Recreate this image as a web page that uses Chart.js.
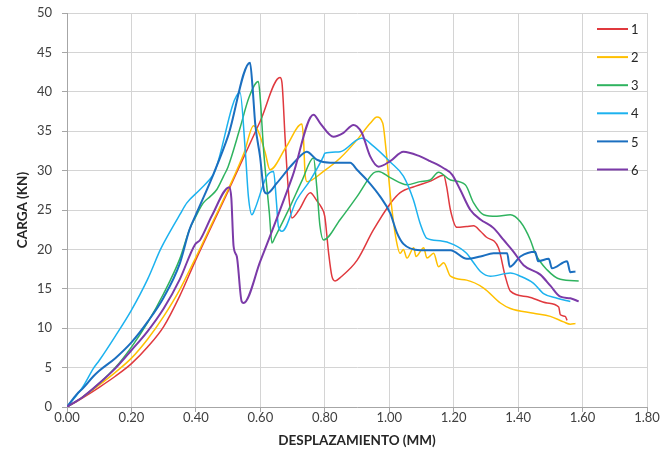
<!DOCTYPE html>
<html>
<head>
<meta charset="utf-8">
<script src="https://cdn.jsdelivr.net/npm/chart.js@4.4.0/dist/chart.umd.min.js"></script>
<style>
  html, body { margin: 0; padding: 0; background: #fff; }
  #wrap { width: 662px; height: 462px; }
</style>
</head>
<body>
<div id="wrap"><canvas id="chart" width="662" height="462"></canvas></div>
<script>
// Ejes
const xTickValues = [0, 0.2, 0.4, 0.6, 0.8, 1.0, 1.2, 1.4, 1.6, 1.8];
const xTickLabels = ['0.00', '0.20', '0.40', '0.60', '0.80', '1.00', '1.20', '1.40', '1.60', '1.80'];
const yTickValues = [0, 5, 10, 15, 20, 25, 30, 35, 40, 45, 50];
const yTickLabels = ['0', '5', '10', '15', '20', '25', '30', '35', '40', '45', '50'];

const seriesNames = ['1', '2', '3', '4', '5', '6'];
const seriesColors = ['#e0393e', '#ffc000', '#2fb35f', '#1cb2ef', '#1b6fc0', '#7b3aa8'];

// Serie 1
const disp1 = [0, 0.05, 0.1, 0.15, 0.2, 0.25, 0.3, 0.35, 0.4, 0.5, 0.6, 0.661, 0.667, 0.677, 0.688, 0.698, 0.72, 0.755, 0.775, 0.79, 0.8, 0.812, 0.822, 0.832, 0.85, 0.9, 0.95, 1.003, 1.034, 1.08, 1.13, 1.169, 1.178, 1.19, 1.21, 1.24, 1.262, 1.283, 1.3, 1.339, 1.36, 1.376, 1.43, 1.49, 1.526, 1.531, 1.546, 1.552];
const load1 = [0, 1.2, 2.5, 3.9, 5.5, 7.6, 10.2, 14.1, 18.7, 27.4, 36.3, 41.8, 41.2, 34, 27, 24.0, 25.0, 27.2, 26.2, 25.3, 24.2, 19.5, 16.6, 16.0, 16.5, 18.6, 22.4, 25.8, 27.2, 28.0, 28.7, 29.4, 28.0, 25.0, 22.8, 22.9, 23.0, 22.3, 21.6, 20.2, 16.6, 14.7, 14.0, 13.2, 12.7, 11.7, 11.5, 11.0];

// Serie 2
const disp2 = [0, 0.05, 0.1, 0.15, 0.2, 0.25, 0.3, 0.35, 0.4, 0.45, 0.5, 0.55, 0.579, 0.59, 0.6, 0.615, 0.63, 0.68, 0.729, 0.734, 0.739, 0.745, 0.796, 0.848, 0.9, 0.941, 0.962, 0.98, 0.99, 1.005, 1.02, 1.034, 1.044, 1.055, 1.076, 1.083, 1.107, 1.117, 1.138, 1.153, 1.169, 1.19, 1.24, 1.293, 1.345, 1.376, 1.448, 1.5, 1.541, 1.562, 1.578];
const load2 = [0, 1.3, 2.8, 4.4, 6.2, 8.6, 11.5, 14.9, 19.0, 23.3, 27.6, 32.3, 35.7, 35.3, 34.3, 32.3, 30.1, 33.0, 35.9, 34.0, 29.5, 28.6, 29.9, 31.6, 33.9, 36.0, 36.8, 36.0, 32.7, 26.3, 21.6, 19.5, 20.0, 18.9, 20.2, 19.1, 20.2, 18.9, 19.5, 17.8, 18.3, 16.6, 16.1, 15.1, 13.2, 12.5, 11.9, 11.5, 10.8, 10.5, 10.6];

// Serie 3
const disp3 = [0, 0.05, 0.1, 0.15, 0.2, 0.25, 0.3, 0.35, 0.38, 0.4, 0.423, 0.444, 0.465, 0.486, 0.5, 0.537, 0.565, 0.594, 0.6, 0.61, 0.62, 0.628, 0.636, 0.645, 0.693, 0.73, 0.765, 0.775, 0.785, 0.796, 0.848, 0.9, 0.951, 0.967, 1.003, 1.055, 1.096, 1.127, 1.153, 1.19, 1.236, 1.262, 1.293, 1.334, 1.376, 1.407, 1.438, 1.453, 1.49, 1.531, 1.588];
const load3 = [0, 1.3, 3.0, 5.0, 7.6, 10.7, 14.4, 18.8, 22.5, 24.2, 25.9, 26.7, 27.6, 29.3, 30.5, 35.4, 39.3, 41.3, 39.0, 32.7, 28.0, 24.6, 20.8, 21.5, 25.5, 28.8, 31.6, 28.0, 23.0, 21.2, 23.8, 26.7, 29.7, 29.9, 29.1, 28.2, 28.6, 28.8, 29.8, 28.8, 28.2, 25.9, 24.4, 24.2, 24.4, 23.5, 21.2, 19.5, 17.4, 16.2, 16.0];

// Serie 4
const disp4 = [0, 0.03, 0.05, 0.082, 0.1, 0.15, 0.2, 0.25, 0.289, 0.3, 0.35, 0.372, 0.413, 0.454, 0.46, 0.537, 0.553, 0.563, 0.574, 0.582, 0.62, 0.641, 0.65, 0.656, 0.667, 0.713, 0.755, 0.796, 0.8, 0.848, 0.9, 0.915, 0.951, 1.003, 1.044, 1.075, 1.096, 1.117, 1.158, 1.2, 1.24, 1.262, 1.283, 1.314, 1.376, 1.407, 1.448, 1.479, 1.521, 1.562];
const load4 = [0, 1.5, 2.6, 4.9, 5.9, 9.0, 12.3, 16.2, 19.9, 20.8, 24.4, 25.9, 27.6, 29.5, 30.0, 39.9, 32.7, 26.7, 24.4, 25.0, 29.3, 29.9, 26.0, 22.9, 22.3, 26.3, 28.8, 31.8, 32.2, 32.4, 33.9, 34.1, 33.1, 31.1, 29.3, 26.3, 23.3, 21.4, 21.1, 20.6, 19.5, 18.3, 17.2, 16.6, 17.0, 16.6, 15.7, 14.4, 13.8, 13.4];

// Serie 5
const disp5 = [0, 0.03, 0.05, 0.082, 0.1, 0.15, 0.2, 0.25, 0.3, 0.35, 0.38, 0.4, 0.454, 0.5, 0.568, 0.576, 0.584, 0.599, 0.612, 0.62, 0.651, 0.693, 0.734, 0.744, 0.775, 0.817, 0.879, 0.9, 0.931, 0.972, 1.003, 1.024, 1.044, 1.096, 1.13, 1.19, 1.241, 1.283, 1.324, 1.366, 1.374, 1.407, 1.453, 1.462, 1.495, 1.505, 1.552, 1.562, 1.578];
const load5 = [0, 1.6, 2.4, 3.9, 4.6, 6.2, 8.2, 10.8, 13.9, 18.2, 22.5, 24.4, 29.5, 34.4, 43.7, 40.5, 36.0, 31.8, 27.4, 27.1, 28.4, 30.5, 32.2, 32.4, 31.4, 31.0, 31.0, 30.1, 28.8, 26.7, 24.6, 22.1, 20.7, 19.9, 19.9, 19.9, 18.8, 19.1, 19.5, 19.5, 17.8, 19.1, 19.7, 18.5, 18.8, 17.6, 18.5, 17.1, 17.2];

// Serie 6
const disp6 = [0, 0.05, 0.1, 0.15, 0.2, 0.25, 0.3, 0.35, 0.397, 0.413, 0.45, 0.504, 0.51, 0.517, 0.527, 0.542, 0.548, 0.6, 0.7, 0.765, 0.786, 0.827, 0.858, 0.889, 0.9, 0.915, 0.941, 0.967, 1.003, 1.044, 1.096, 1.127, 1.169, 1.195, 1.22, 1.252, 1.283, 1.324, 1.355, 1.386, 1.417, 1.469, 1.5, 1.531, 1.562, 1.588];
const load6 = [0, 1.3, 3.0, 4.9, 7.2, 9.6, 12.5, 16.2, 20.6, 21.2, 24.3, 27.9, 26.5, 20.4, 19.1, 13.4, 13.2, 18.5, 29.3, 37.1, 36.0, 34.3, 34.8, 35.8, 35.6, 34.8, 31.8, 30.5, 31.2, 32.4, 31.8, 31.2, 30.3, 29.5, 27.6, 25.0, 23.8, 22.7, 21.2, 19.7, 18.0, 16.8, 15.4, 14.0, 13.8, 13.4];

const allDisp = [disp1, disp2, disp3, disp4, disp5, disp6];
const allLoad = [load1, load2, load3, load4, load5, load6];

const FONT = 'Lato, "Liberation Sans", sans-serif';

// Leyenda a la derecha, dentro del área del gráfico (como en Excel)
const sideLegend = {
  id: 'sideLegend',
  afterDatasetsDraw(chart) {
    const ctx = chart.ctx;
    const area = chart.chartArea;
    ctx.save();
    ctx.font = '13px ' + FONT;
    ctx.textBaseline = 'middle';
    ctx.textAlign = 'left';
    seriesNames.forEach((name, i) => {
      const y = area.top + 16 + i * 28.1;
      const x0 = area.right - 50;
      ctx.strokeStyle = seriesColors[i];
      ctx.lineWidth = 2;
      ctx.beginPath();
      ctx.moveTo(x0, y);
      ctx.lineTo(x0 + 31, y);
      ctx.stroke();
      ctx.fillStyle = '#262626';
      ctx.fillText(name, x0 + 34, y + 1);
    });
    ctx.restore();
  }
};

const datasets = seriesNames.map((name, i) => ({
  label: name,
  data: allDisp[i].map((x, j) => ({ x: x, y: allLoad[i][j] })),
  borderColor: seriesColors[i],
  backgroundColor: seriesColors[i],
  borderWidth: (i === 4 || i === 5) ? 2 : 1.5,
  showLine: true,
  pointRadius: 0,
  cubicInterpolationMode: 'monotone',
  order: seriesNames.length - i
}));

new Chart(document.getElementById('chart'), {
  type: 'scatter',
  data: { datasets: datasets },
  options: {
    responsive: false,
    animation: false,
    layout: { padding: { top: 13, right: 15, left: 0, bottom: 0 } },
    plugins: {
      legend: { display: false },
      tooltip: { enabled: false }
    },
    scales: {
      x: {
        type: 'linear',
        min: 0,
        max: 1.8,
        afterBuildTicks: s => { s.ticks = xTickValues.map(v => ({ value: v })); },
        afterFit: s => { s.height = 55; },
        ticks: {
          callback: (v, i) => xTickLabels[i],
          font: { family: FONT, size: 13 },
          color: '#404040',
          padding: -2,
          maxRotation: 0,
          autoSkip: false
        },
        grid: { color: '#d4d4d4', tickColor: '#a6a6a6', tickLength: 5 },
        border: { color: '#a6a6a6' },
        title: {
          display: true,
          text: 'DESPLAZAMIENTO (MM)',
          font: { family: FONT, size: 13.5, weight: 'bold' },
          color: '#262626',
          padding: { top: 0, bottom: 13 }
        }
      },
      y: {
        type: 'linear',
        min: 0,
        max: 50,
        afterBuildTicks: s => { s.ticks = yTickValues.map(v => ({ value: v })); },
        afterFit: s => {
          s.width = 67;
          // sin esto el padding de las etiquetas empuja el área hacia abajo
          s.paddingTop = 0;
          s.paddingBottom = 0;
        },
        ticks: {
          callback: (v, i) => yTickLabels[i],
          font: { family: FONT, size: 13 },
          color: '#404040',
          padding: 10,
          autoSkip: false
        },
        grid: { color: '#d4d4d4', tickColor: '#a6a6a6', tickLength: 5 },
        border: { color: '#a6a6a6' },
        title: {
          display: true,
          text: 'CARGA (KN)',
          font: { family: FONT, size: 13.5, weight: 'bold' },
          color: '#262626',
          padding: { top: 15, bottom: 0 }
        }
      }
    }
  },
  plugins: [sideLegend]
});
</script>
</body>
</html>
